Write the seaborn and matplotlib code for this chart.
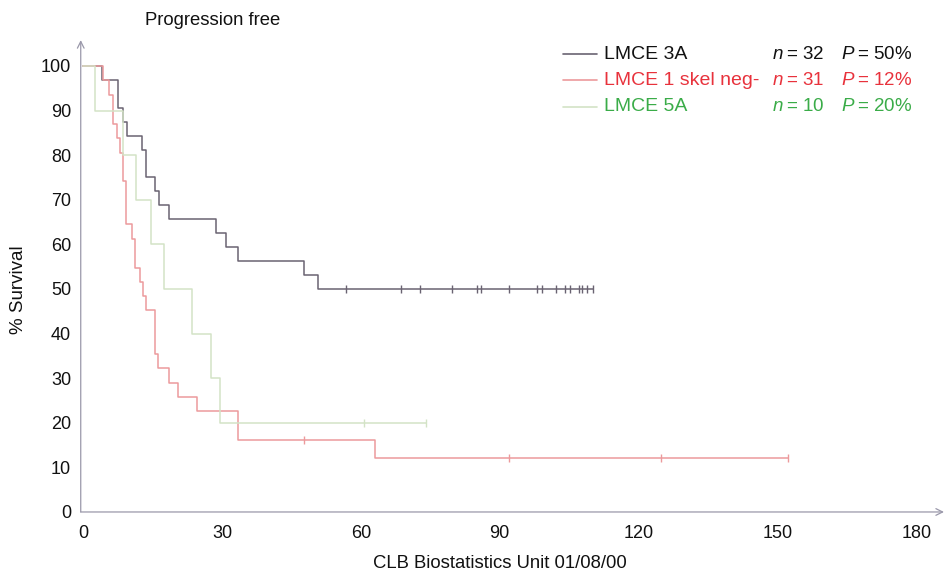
import numpy as np
import pandas as pd
import matplotlib
matplotlib.use("Agg")
import matplotlib.pyplot as plt
import seaborn as sns

# ---- data (months, % survival) ----
gray_t = [0, 4, 7.6, 8.7, 9.4, 12.7, 13.5, 15.5, 16.5, 18.6, 28.7, 30.8, 33.5, 47.7, 50.8]
gray_s = [100, 96.9, 90.6, 87.5, 84.4, 81.25, 75, 71.9, 68.75, 65.6, 62.5, 59.4, 56.25, 53.1, 50]
gray_cens = [56.8, 68.7, 72.8, 79.8, 85.2, 85.9, 92.0, 98.1, 99.1, 102.2, 104.1, 105.2,
             107.2, 107.9, 108.8, 110.2]

red_t = [0, 4.4, 5.6, 6.5, 7.4, 8.0, 8.7, 9.3, 10.5, 11.2, 12.3, 13.0, 13.6, 15.6, 16.3,
         18.6, 20.6, 24.7, 33.5, 63]
red_s = [100, 96.8, 93.5, 87.1, 83.9, 80.6, 74.2, 64.5, 61.3, 54.8, 51.6, 48.4, 45.2, 35.5,
         32.3, 29.0, 25.8, 22.6, 16.1, 12.1]
red_cens = [47.7, 92.1, 124.9, 152.3]

green_t = [0, 2.6, 8.7, 11.4, 14.6, 17.5, 23.6, 27.6, 29.6]
green_s = [100, 90, 80, 70, 60, 50, 40, 30, 20]
green_cens = [60.8, 74.0]

groups = ["LMCE 3A", "LMCE 1 skel neg-", "LMCE 5A"]
n_pat = [32, 31, 10]
p_surv = [50, 12, 20]
xticks = [0, 30, 60, 90, 120, 150, 180]
yticks = list(range(0, 101, 10))

line_cols = ["#6a6372", "#ec9a9c", "#d3e3c6"]
text_cols = ["#111111", "#e8323c", "#3aac48"]

sns.set_theme(style="white")
plt.rcParams["font.family"] = ["Liberation Sans", "DejaVu Sans"]
plt.rcParams["mathtext.fontset"] = "custom"
plt.rcParams["mathtext.it"] = "Liberation Sans:italic"
plt.rcParams["mathtext.rm"] = "Liberation Sans"

fig = plt.figure(figsize=(9.51, 5.73), dpi=100)
ax = fig.add_axes([0.0849, 0.1065, 0.9077, 0.8235])

curves = [(gray_t, gray_s, gray_cens), (red_t, red_s, red_cens), (green_t, green_s, green_cens)]
for (t, s, cens), col in zip(curves, line_cols):
    df = pd.DataFrame({"t": t + [max(cens)], "s": s + [s[-1]]})
    sns.lineplot(data=df, x="t", y="s", drawstyle="steps-post", estimator=None,
                 color=col, lw=1.1, ax=ax, legend=False)
    idx = np.searchsorted(t, cens, side="right") - 1
    cdf = pd.DataFrame({"t": cens, "s": np.array(s)[idx]})
    sns.scatterplot(data=cdf, x="t", y="s", marker="|", s=30, color=col,
                    linewidth=1.0, ax=ax, legend=False, zorder=3)

ax.set_xlim(-0.5, 186)
ax.set_ylim(0, 105.8)
ax.set_xticks(xticks)
ax.set_yticks(yticks)
ax.set_xlabel("")
ax.set_ylabel("")
ax.tick_params(axis="both", labelsize=13, colors="#9a98aa", labelcolor="#111111",
               length=2.5, width=0.8, pad=4.5)
ax.tick_params(axis="x", direction="inout", length=5, pad=7)
for side in ["top", "right", "left", "bottom"]:
    ax.spines[side].set_visible(False)

axcol = "#9a98aa"
ax.annotate("", xy=(0, 1), xytext=(0, -0.0), xycoords="axes fraction",
            arrowprops=dict(arrowstyle="->", color=axcol, lw=0.9, shrinkA=0, shrinkB=0))
ax.annotate("", xy=(1, 0), xytext=(0, 0), xycoords="axes fraction",
            arrowprops=dict(arrowstyle="->", color=axcol, lw=0.9, shrinkA=0, shrinkB=0))

# legend block
rows_y = [0.905, 0.860, 0.814]
for i in range(3):
    y = rows_y[i]
    fig.add_artist(plt.Line2D([0.592, 0.628], [y, y], color=line_cols[i], lw=1.2,
                              transform=fig.transFigure))
    fig.text(0.635, y, groups[i], color=text_cols[i], fontsize=14, va="center")
    fig.text(0.812, y, r"$n$" + "\u2009= %d" % n_pat[i], color=text_cols[i], fontsize=13.5,
             va="center")
    fig.text(0.884, y, r"$P$" + "\u2009= %d%%" % p_surv[i], color=text_cols[i], fontsize=13.5,
             va="center")

fig.text(0.1525, 0.965, "Progression free", fontsize=13.3, va="center", color="#111111")
fig.text(0.019, 0.494, "% Survival", fontsize=13.5, rotation=90, va="center", ha="center",
         color="#111111")
fig.text(0.526, 0.017, "CLB Biostatistics Unit 01/08/00", fontsize=13.3, va="center",
         ha="center", color="#111111")

fig.savefig("out.png", dpi=100)
